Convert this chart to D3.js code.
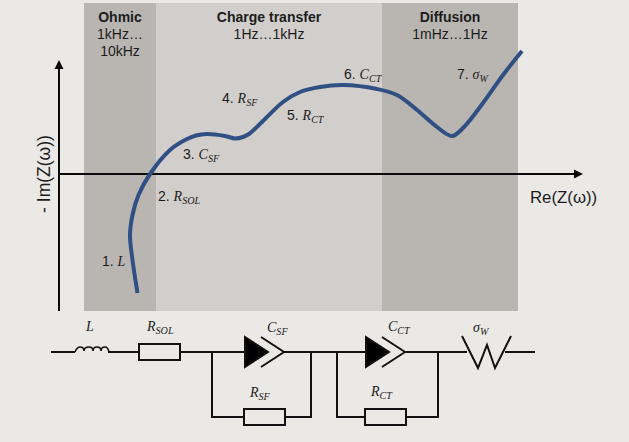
<!DOCTYPE html>
<html>
<head>
<meta charset="utf-8">
<script src="https://cdn.jsdelivr.net/npm/d3@7"></script>
<style>
  html, body { margin: 0; padding: 0; background: #ebe9e6; }
  svg { display: block; }
  text { font-family: "Liberation Sans", Arial, sans-serif; fill: #1c1c1c; }
  .math { font-family: "Liberation Serif", serif; font-style: italic; }
</style>
</head>
<body>
<div id="chart"></div>
<script>
// regions, in the chart's Re units
const regionNames = ['Ohmic', 'Charge transfer', 'Diffusion'];
const regionFreqs = [['1kHz…', '10kHz'], ['1Hz…1kHz'], ['1mHz…1Hz']];
const regionStart = [25, 97, 323];
const regionEnd = [97, 323, 459];

// Nyquist curve
const curveRe = [78.5, 73.5, 71, 73.5, 79.5, 91, 111, 126, 137, 148, 166, 176, 184, 190, 203, 224, 241, 261, 284, 318, 338, 358, 378, 393, 404, 424, 444, 463];
const curveIm = [-119, -86, -61, -41, -21, 0, 24, 34, 38.5, 40, 38, 35.5, 37, 40, 52, 72, 82, 87, 89, 85, 79, 64, 47, 38, 46, 71, 99, 123];

// numbered labels on the curve
const pointNum = ['1.', '2.', '3.', '4.', '5.', '6.', '7.'];
const pointSym = ['L', 'R', 'C', 'R', 'R', 'C', 'σ'];
const pointSub = ['', 'SOL', 'SF', 'SF', 'CT', 'CT', 'W'];
const pointRe = [43, 99, 124, 163, 228, 285, 398];
const pointIm = [-92, -27, 15, 71, 54, 95, 95];

const width = 629;
const height = 442;
const svg = d3.select('#chart').append('svg').attr('width', width).attr('height', height);

const x = d3.scaleLinear().domain([0, 525]).range([59, 584]);
const y = d3.scaleLinear().domain([-137, 122]).range([311, 52]);

const bandTop = 3;
const bandBottom = 311;
const bandFill = ['#b9b6b2', '#d1cecb', '#b9b6b2'];

/* Bands */
const bands = svg.append('g').selectAll('g').data(regionNames).enter().append('g');
bands.append('rect')
  .attr('x', (d, i) => x(regionStart[i]))
  .attr('y', bandTop)
  .attr('width', (d, i) => x(regionEnd[i]) - x(regionStart[i]))
  .attr('height', bandBottom - bandTop)
  .attr('fill', (d, i) => bandFill[i]);
bands.append('text')
  .attr('x', (d, i) => (x(regionStart[i]) + x(regionEnd[i])) / 2)
  .attr('y', 21.5)
  .attr('text-anchor', 'middle')
  .attr('font-size', 14)
  .attr('font-weight', 'bold')
  .text(d => d);
bands.each(function (d, i) {
  d3.select(this).selectAll('.freq').data(regionFreqs[i]).enter().append('text')
    .attr('class', 'freq')
    .attr('x', (x(regionStart[i]) + x(regionEnd[i])) / 2)
    .attr('y', (f, j) => 39 + j * 17)
    .attr('text-anchor', 'middle')
    .attr('font-size', 14)
    .text(f => f);
});

/* Axes */
const black = '#0a0a0a';
svg.append('line').attr('x1', x(0)).attr('x2', x(517)).attr('y1', y(0)).attr('y2', y(0))
  .attr('stroke', black).attr('stroke-width', 2);
svg.append('line').attr('x1', x(0)).attr('x2', x(0)).attr('y1', y(-137)).attr('y2', y(106))
  .attr('stroke', black).attr('stroke-width', 2);
svg.append('path').attr('d', `M${x(524)},${y(0)} l-9,-4.5 v9 z`).attr('fill', black);
svg.append('path').attr('d', `M${x(0)},${y(114)} l-4.5,9 h9 z`).attr('fill', black);

svg.append('text')
  .attr('transform', `translate(50,174) rotate(-90)`)
  .attr('text-anchor', 'middle')
  .attr('font-size', 17.5)
  .text('- Im(Z(ω))');
svg.append('text').attr('x', 530).attr('y', 203).attr('font-size', 16.8).text('Re(Z(ω))');

/* Curve */
const line = d3.line()
  .x(d => x(d[0]))
  .y(d => y(d[1]))
  .curve(d3.curveCatmullRom.alpha(0.5));
svg.append('path')
  .datum(curveRe.map((r, i) => [r, curveIm[i]]))
  .attr('d', line)
  .attr('fill', 'none')
  .attr('stroke', '#304f82')
  .attr('stroke-width', 4);

// symbol with a subscript, used on the curve and in the circuit
function mathLabel(parent, px, py, num, sym, sub, size) {
  const t = parent.append('text').attr('x', px).attr('y', py).attr('font-size', size);
  if (num) t.append('tspan').text(num + ' ');
  t.append('tspan').attr('class', 'math').text(sym);
  if (sub) {
    t.append('tspan').attr('class', 'math').attr('dy', 3).attr('font-size', size * 0.72).text(sub);
  }
}

pointNum.forEach((n, i) => {
  mathLabel(svg, x(pointRe[i]), y(pointIm[i]), n, pointSym[i], pointSub[i], 14);
});

/* Equivalent circuit */
const wireY = 352;
const loopY = 417;
const wires = [
  [[51, wireY], [75, wireY]],
  [[108, wireY], [139, wireY]],
  [[180, wireY], [245, wireY]],
  [[284, wireY], [366, wireY]],
  [[406, wireY], [467, wireY]],
  [[505, wireY], [535, wireY]],
  [[212, wireY], [212, loopY], [311, loopY], [311, wireY]],
  [[337, wireY], [337, loopY], [438, loopY], [438, wireY]]
];
const resistors = [[139, wireY], [244, loopY], [365, loopY]];
const capacitors = [245, 366];

const circuit = svg.append('g').attr('fill', 'none').attr('stroke', '#111').attr('stroke-width', 2);
const wire = d3.line();
circuit.selectAll('.wire').data(wires).enter().append('path').attr('class', 'wire').attr('d', wire);
circuit.selectAll('.res').data(resistors).enter().append('rect')
  .attr('class', 'res')
  .attr('x', d => d[0])
  .attr('y', d => d[1] - 8)
  .attr('width', 41)
  .attr('height', 16)
  .attr('fill', '#ebe9e6');
circuit.selectAll('.tri').data(capacitors).enter().append('path')
  .attr('class', 'tri')
  .attr('d', d => `M${d},${wireY - 15} L${d + 23},${wireY} L${d},${wireY + 15} Z`)
  .attr('fill', '#000');
circuit.selectAll('.chev').data(capacitors).enter().append('path')
  .attr('class', 'chev')
  .attr('d', d => `M${d + 16},${wireY - 15} L${d + 39},${wireY} L${d + 16},${wireY + 15}`);
circuit.append('path').attr('stroke-width', 1.6)
  .attr('d', `M75,${wireY} q2,-5 5,-5 q4,0 4,4 q0,-4 5,-4 q4,0 4,4 q0,-4 4,-4 q4,0 4,4 q0,-4 4,-4 q3,0 4,5`);
circuit.append('path')
  .attr('d', wire([[462, 336], [478, 368], [487, 345], [495, 368], [511, 336]]));

const circuitSym = ['L', 'R', 'C', 'R', 'C', 'R', 'σ'];
const circuitSub = ['', 'SOL', 'SF', 'SF', 'CT', 'CT', 'W'];
const circuitX = [86, 147, 267, 250, 388, 371, 473];
const circuitY = [331, 331, 332, 397, 331, 396, 332];
circuitSym.forEach((s, i) => {
  mathLabel(svg, circuitX[i], circuitY[i], '', s, circuitSub[i], 14);
});
</script>
</body>
</html>
